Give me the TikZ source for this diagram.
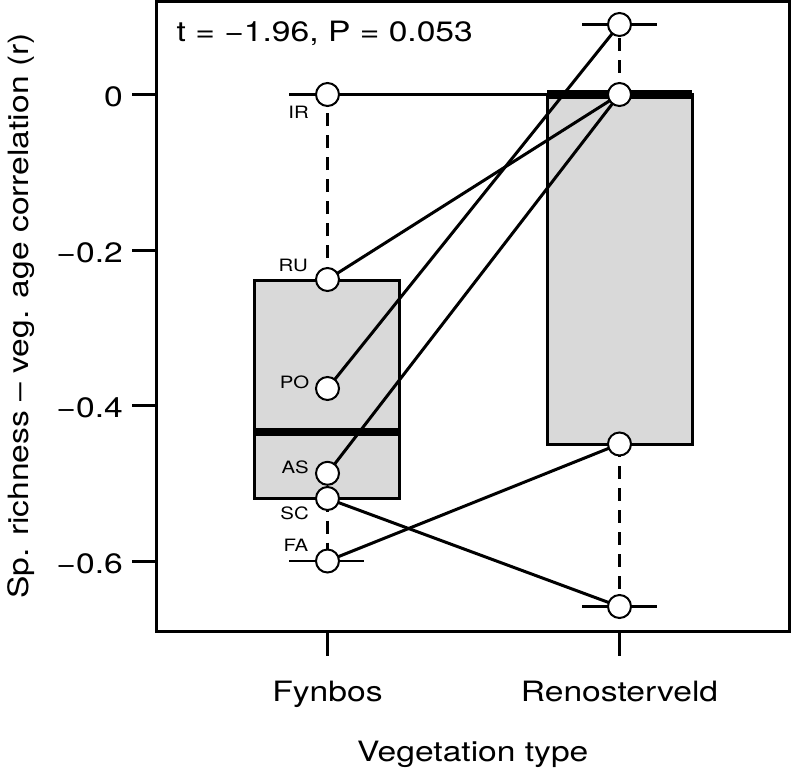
\documentclass[tikz,border=0pt]{standalone}
\usepackage{fontspec}
\setmainfont{TeX Gyre Heros}
\usepackage{graphicx}
\definecolor{boxgray}{RGB}{217,217,217}
\newcommand{\wx}[1]{\scalebox{1.2}[1]{#1}}
\tikzset{
  bx/.style={fill=boxgray, draw=black, line width=3pt},
  med/.style={line width=8.5pt, line cap=butt},
  whisk/.style={line width=3pt, dash pattern=on 13pt off 9pt},
  staple/.style={line width=2.7pt},
  conn/.style={line width=3pt},
  pt/.style={circle, draw=black, fill=white, line width=2pt, minimum size=23pt, inner sep=0pt},
  lab/.style={font=\fontsize{17}{17}\selectfont, anchor=base east, inner sep=0pt},
  big/.style={font=\fontsize{28}{28}\selectfont, inner sep=0pt},
  frame/.style={line width=3pt},
  tick/.style={line width=3pt}
}
\begin{document}
\begin{tikzpicture}[x=1pt, y=-1pt]
\useasboundingbox (0,0) rectangle (791,772);
% data positions
\coordinate (fIR) at (327.5,94.5);
\coordinate (fRU) at (327.5,279.5);
\coordinate (fPO) at (327.5,388.5);
\coordinate (fAS) at (327.5,473.3);
\coordinate (fSC) at (327.5,498.5);
\coordinate (fFA) at (327.5,561);
\coordinate (r0)  at (619.5,94.5);
\coordinate (rPO) at (619.5,24.5);
\coordinate (rSC) at (619.5,606.5);
\coordinate (rFA) at (619.5,444);
% boxes
\draw[bx] (254.3,280) rectangle (399.5,498.5);
\draw[bx] (547.3,94.5) rectangle (692.3,444);
\draw[med] (254.3,432) -- (399.5,432);
\draw[med] (547.3,94.5) -- (692.3,94.5);
% whiskers
\draw[whisk] (327.5,280) -- (fIR);
\draw[whisk] (327.5,498.5) -- (fFA);
\draw[whisk] (r0) -- (rPO);
\draw[whisk] (rFA) -- (rSC);
% staples
\draw[staple] (289,94.5) -- (364,94.5);
\draw[staple] (289,561) -- (364,561);
\draw[staple] (582,24.5) -- (657,24.5);
\draw[staple] (582,606.5) -- (657,606.5);
% connections
\draw[conn] (fIR) -- (r0);
\draw[conn] (fRU) -- (r0);
\draw[conn] (fPO) -- (rPO);
\draw[conn] (fAS) -- (r0);
\draw[conn] (fSC) -- (rSC);
\draw[conn] (fFA) -- (rFA);
% points
\node[pt] (cIR) at (fIR) {};
\node[pt] (cRU) at (fRU) {};
\node[pt] (cPO) at (fPO) {};
\node[pt] (cAS) at (fAS) {};
\node[pt] (cSC) at (fSC) {};
\node[pt] (cFA) at (fFA) {};
\node[pt] (c0) at (r0) {};
\node[pt] (cRPO) at (rPO) {};
\node[pt] (cRSC) at (rSC) {};
\node[pt] (cRFA) at (rFA) {};
% point labels
\node[lab] (lIR) at (309,118.3) {\wx{IR}};
\node[lab] (lRU) at (308,271.7) {\wx{RU}};
\node[lab] (lPO) at (309.5,388.5) {\wx{PO}};
\node[lab] (lAS) at (309,473.3) {\wx{AS}};
\node[lab] (lSC) at (309,519.3) {\wx{SC}};
\node[lab] (lFA) at (308.5,551.7) {\wx{FA}};
% frame and ticks
\draw[frame] (156.5,1.5) rectangle (789,631);
\foreach \yy/\tt in {94.5/0, 250/−0.2, 405.5/−0.4, 561/−0.6}{
  \draw[tick] (132,\yy) -- (156.5,\yy);
  \node[big, anchor=base east] at (123,\yy+12) {\wx{\tt}};
}
\draw[tick] (327.5,631) -- (327.5,656);
\draw[tick] (619.5,631) -- (619.5,656);
% texts
\node[big, anchor=base west] (title) at (176.5,41.7) {\wx{t = −1.96, P = 0.053}};
\node[big, anchor=base] (xF) at (327.5,701) {\wx{Fynbos}};
\node[big, anchor=base] (xR) at (619.5,701) {\wx{Renosterveld}};
\node[big, anchor=base] (xlab) at (472.75,761.5) {\wx{Vegetation type}};
\node[big, anchor=base, rotate=90] (ylab) at (28,316) {\wx{Sp. richness – veg. age correlation (r)}};
\end{tikzpicture}
\end{document}
